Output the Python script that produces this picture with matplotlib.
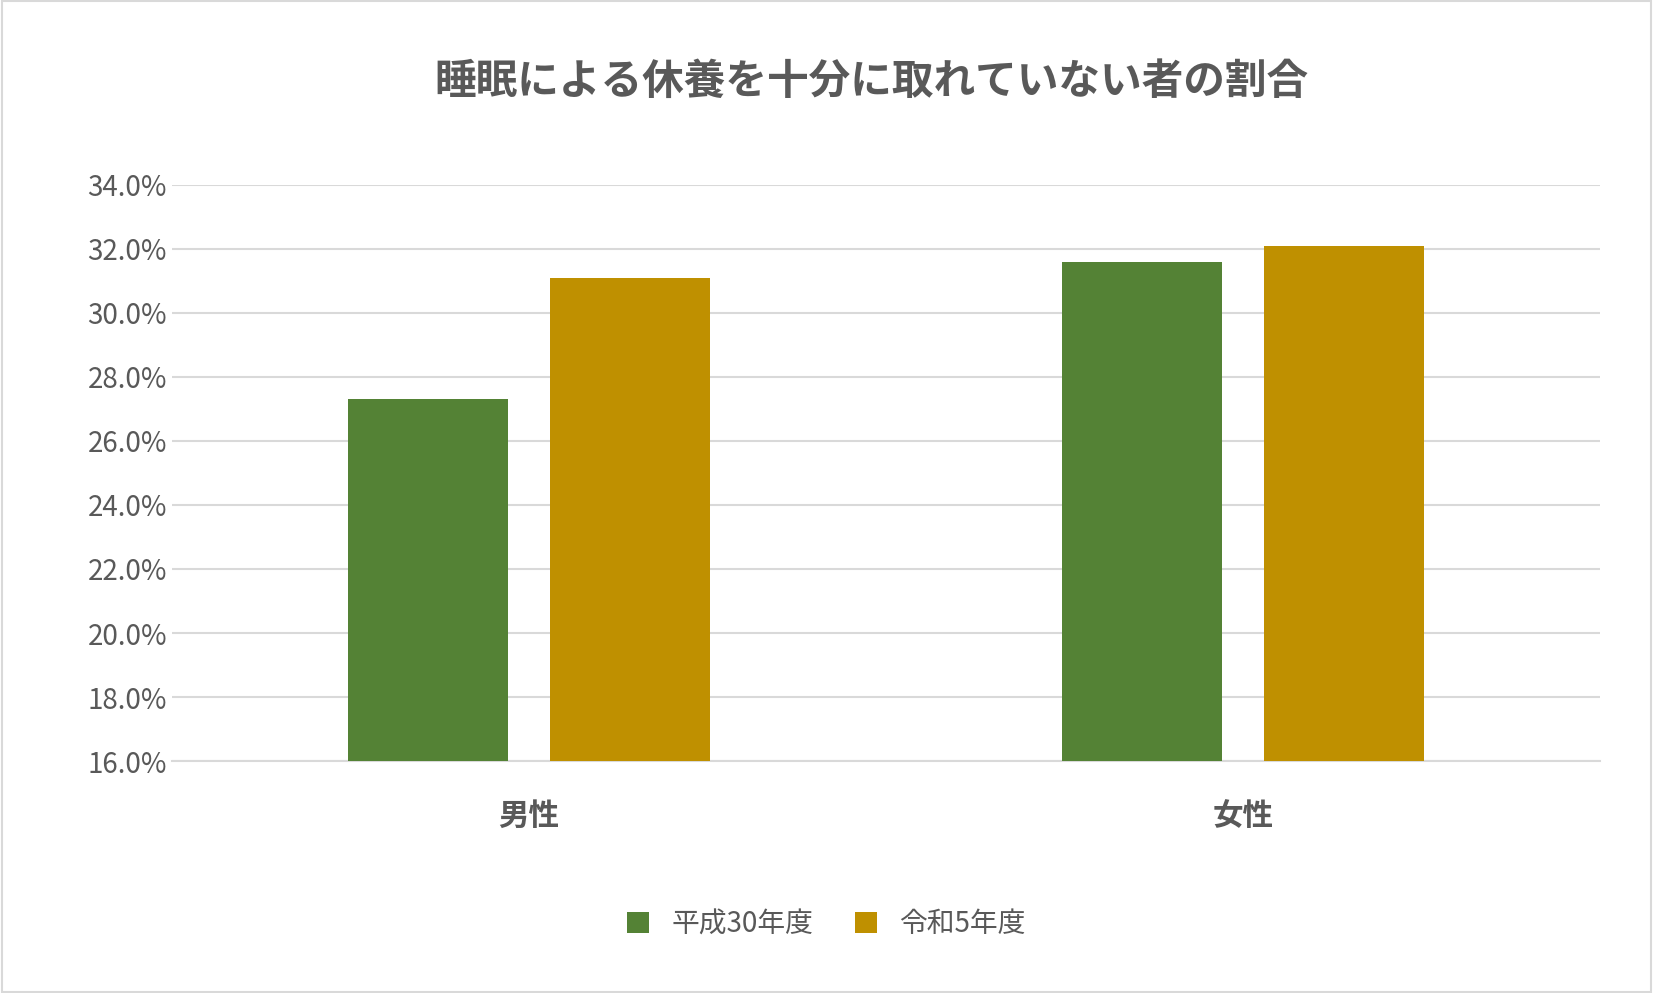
import matplotlib
matplotlib.use("Agg")
import matplotlib.pyplot as plt
import numpy as np

categories = ["男性", "女性"]
series_names = ["平成30年度", "令和5年度"]
h30 = [27.3, 31.6]
r5 = [31.1, 32.1]
yticks = [16, 18, 20, 22, 24, 26, 28, 30, 32, 34]

plt.rcParams["font.family"] = "Noto Sans CJK JP"
fig = plt.figure(figsize=(16.53, 9.93), dpi=100)
ax = fig.add_axes([0.104, 0.2335, 0.864, 0.5805])
x = np.arange(len(categories))
w = 0.224
gap = 0.06
ax.bar(x - (w + gap) / 2, h30, w, color="#548235", label=series_names[0], zorder=3)
ax.bar(x + (w + gap) / 2, r5, w, color="#BF9000", label=series_names[1], zorder=3)
ax.set_xlim(-0.5, 1.5)
ax.set_ylim(16, 34)
ax.set_yticks(yticks)
ax.set_yticklabels([f"{v:.1f}%" for v in yticks], fontsize=20, color="#595959")
ax.set_xticks(x)
ax.set_xticklabels(categories, fontsize=22, fontweight="bold", color="#595959")
ax.tick_params(axis="both", length=0)
ax.tick_params(axis="x", pad=28)
ax.grid(axis="y", color="#D9D9D9", linewidth=1.5, zorder=0)
for s in ["top", "right", "left"]:
    ax.spines[s].set_visible(False)
ax.spines["bottom"].set_color("#D9D9D9")
ax.spines["bottom"].set_linewidth(1.5)
fig.text(0.527, 0.917, "睡眠による休養を十分に取れていない者の割合", ha="center", va="center",
         fontsize=30, fontweight="bold", color="#595959")
fig.legend(loc="center", bbox_to_anchor=(0.5, 0.069), ncol=2, frameon=False,
           fontsize=20, handlelength=0.8, handleheight=0.8, columnspacing=1.5,
           labelcolor="#595959")
fig.patches.append(plt.Rectangle((0.001, 0.001), 0.998, 0.998, transform=fig.transFigure,
                                 fill=False, edgecolor="#D9D9D9", linewidth=1.5))
fig.savefig("out.png")
